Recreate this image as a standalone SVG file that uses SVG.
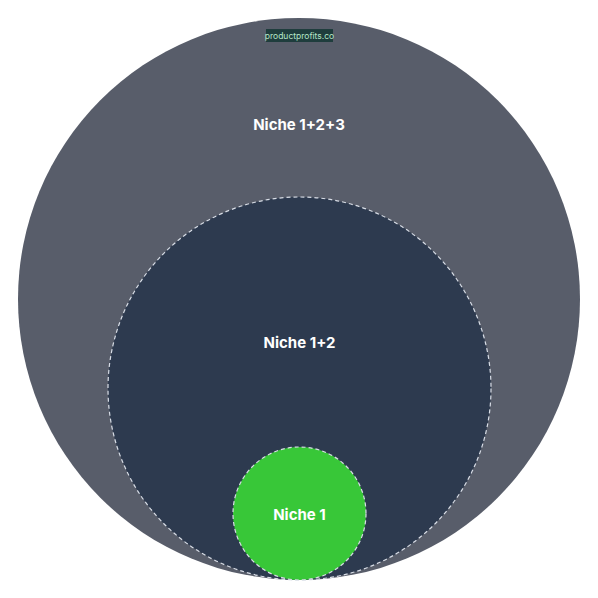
<svg xmlns="http://www.w3.org/2000/svg" width="598" height="598" viewBox="0 0 598 598">
<style>
.lbl{font-family:"Inter","Noto Sans",sans-serif;font-weight:700;font-size:15px;fill:#ffffff;text-anchor:middle;dominant-baseline:central}
.dash{stroke:#d8dde6;stroke-width:1.2;stroke-dasharray:4 3}
</style>
<rect width="598" height="598" fill="#ffffff"/>
<g id="niche123">
<circle cx="299" cy="299" r="281" fill="#585d6a"/>
<text class="lbl" x="299" y="124">Niche 1+2+3</text>
</g>
<g id="niche12">
<circle cx="299.5" cy="388.5" r="191.5" fill="#2d3a4f" class="dash"/>
<text class="lbl" x="299.5" y="342">Niche 1+2</text>
</g>
<g id="niche1">
<circle cx="299.5" cy="513.5" r="66.5" fill="#38c738" class="dash"/>
<text class="lbl" x="299.5" y="514">Niche 1</text>
</g>
<g id="watermark">
<rect x="266" y="29" width="67" height="13" fill="#1f3d3d"/>
<text x="299.5" y="35.5" font-family="Inter,'Noto Sans',sans-serif" font-size="8.5" fill="#b5e6c8" text-anchor="middle" dominant-baseline="central">productprofits.co</text>
</g>
<g id="connectors"/>
</svg>
